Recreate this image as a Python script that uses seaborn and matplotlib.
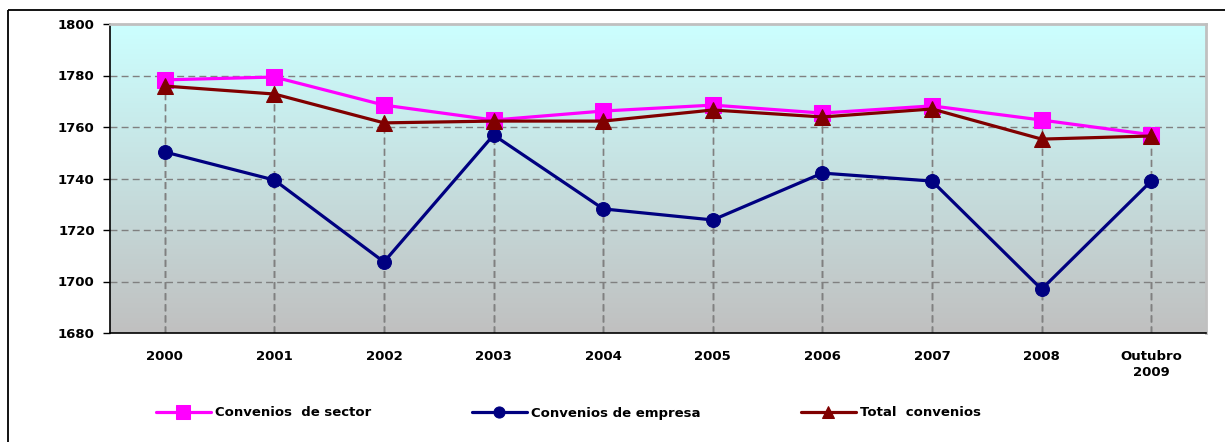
import numpy as np
import pandas as pd
import matplotlib
matplotlib.use("Agg")
import matplotlib.pyplot as plt
import seaborn as sns
from matplotlib.colors import LinearSegmentedColormap
from matplotlib.lines import Line2D

categories = ["2000", "2001", "2002", "2003", "2004", "2005", "2006", "2007", "2008", "Outubro\n2009"]
sector = [1778.3, 1779.4, 1768.5, 1762.7, 1766.2, 1768.5, 1765.4, 1768.2, 1762.7, 1757.0]
empresa = [1750.3, 1739.4, 1707.6, 1756.9, 1728.2, 1723.9, 1742.1, 1739.0, 1697.0, 1739.0]
total = [1775.9, 1772.8, 1761.6, 1762.3, 1762.3, 1766.6, 1763.9, 1767.0, 1755.3, 1756.5]
series_names = ["Convenios  de sector", "Convenios de empresa", "Total  convenios"]
yticks = [1680, 1700, 1720, 1740, 1760, 1780, 1800]

sns.set_theme(style="white")
plt.rcParams["font.family"] = ["DejaVu Sans"]
plt.rcParams["text.color"] = "black"
plt.rcParams["xtick.color"] = "black"
plt.rcParams["ytick.color"] = "black"
plt.rcParams["xtick.labelcolor"] = "black"
plt.rcParams["ytick.labelcolor"] = "black"

x = np.arange(len(categories))
df = pd.DataFrame({
    "x": np.tile(x, 3),
    "value": sector + empresa + total,
    "serie": np.repeat(series_names, len(categories)),
})

fig = plt.figure(figsize=(12.25, 4.42), dpi=100)
ax = fig.add_axes([110/1225, 1-333/442, (1206-110)/1225, (333-24)/442])

# outer frame (left and top edges visible)
fy = 1 - 10/442
fx = 8/1225
fig.lines.append(Line2D([fx, fx], [-0.05, fy], transform=fig.transFigure, color="black",
                        linewidth=1.3, solid_capstyle="butt"))
fig.lines.append(Line2D([fx, 1.05], [fy, fy], transform=fig.transFigure, color="black",
                        linewidth=1.3, solid_capstyle="butt"))

# gradient background
cmap = LinearSegmentedColormap.from_list("bg", ["#C0C0C0", "#CCFFFF"])
grad = np.linspace(0, 1, 256).reshape(-1, 1)
ax.imshow(grad, aspect="auto", cmap=cmap, extent=[0, 1, 0, 1], transform=ax.transAxes,
          origin="lower", zorder=0)

ax.set_xlim(-0.5, len(categories) - 0.5)
ax.set_ylim(1680, 1800)

# horizontal grid
for yv in yticks[1:-1]:
    ax.axhline(yv, color="#808080", linewidth=1, linestyle=(0, (5, 3)), zorder=1)

# drop lines
for serie in [sector, empresa, total]:
    ax.vlines(x, 1680, serie, colors="#808080", linewidth=1, linestyles=(0, (5, 3)), zorder=1)

palette = {series_names[0]: "#FF00FF", series_names[1]: "#000080", series_names[2]: "#800000"}
markers = {series_names[0]: "s", series_names[1]: "o", series_names[2]: "^"}
sizes = {series_names[0]: 12, series_names[1]: 10, series_names[2]: 11}
for name in [series_names[1], series_names[0], series_names[2]]:
    sub = df[df["serie"] == name]
    sns.lineplot(data=sub, x="x", y="value", ax=ax, color=palette[name], marker=markers[name],
                 markersize=sizes[name], markeredgecolor=palette[name], linewidth=2.3,
                 label=name, zorder=3)

ax.set_xlabel("")
ax.set_ylabel("")
ax.set_yticks(yticks)
ax.set_yticklabels([str(v) for v in yticks], fontsize=9.5, fontweight="bold", color="black")
ax.set_xticks(x)
ax.set_xticklabels(categories, fontsize=9.5, fontweight="bold", linespacing=1.3, color="black")
ax.set_xticks(np.arange(-0.5, len(categories)), minor=True)
ax.tick_params(axis="x", which="major", length=0, pad=12)
ax.tick_params(axis="x", which="minor", length=5, width=1, color="black", direction="out")
ax.tick_params(axis="y", length=5, width=1, color="black", direction="out", left=True, pad=6)

for s in ["left", "bottom"]:
    ax.spines[s].set_color("black")
    ax.spines[s].set_linewidth(1.2)
for s in ["top", "right"]:
    ax.spines[s].set_color("#C0C0C0")
    ax.spines[s].set_linewidth(2)

handles, labels = ax.get_legend_handles_labels()
order = [labels.index(n) for n in series_names]
leg = ax.legend([handles[i] for i in order], [labels[i] for i in order],
                loc="center", bbox_to_anchor=(0.464, 1-413/442), bbox_transform=fig.transFigure,
                ncol=3, frameon=False, handlelength=4.2, handletextpad=0.3, columnspacing=7.6,
                markerscale=0.8, prop={"weight": "bold", "size": 9.5})
for t in leg.get_texts():
    t.set_color("black")

fig.savefig("out.png", dpi=100)
